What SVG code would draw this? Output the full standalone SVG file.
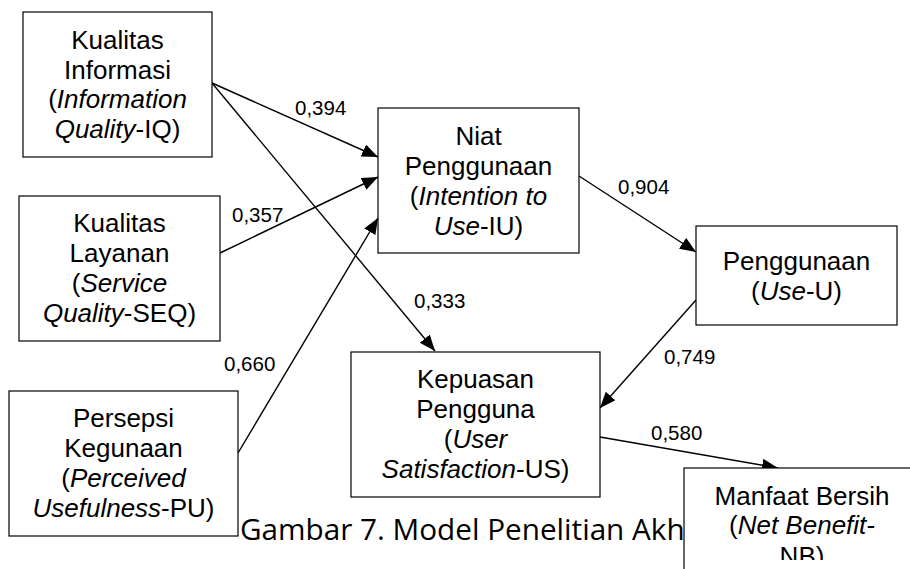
<svg xmlns="http://www.w3.org/2000/svg" width="910" height="569" viewBox="0 0 910 569">
<defs>
<marker id="arr" markerUnits="userSpaceOnUse" markerWidth="18" markerHeight="14" refX="16" refY="6.5" orient="auto">
<path d="M0,0 L16,6.5 L0,13 z" fill="#000"/>
</marker>
<clipPath id="nbclip"><rect x="684" y="468" width="236" height="92"/></clipPath>
<style>
.box{fill:#fff;stroke:#000;stroke-width:1.2}
.t{font-family:"Liberation Sans",Arial,sans-serif;font-size:26px;fill:#000;text-anchor:middle}
.n{font-family:"Liberation Sans",Arial,sans-serif;font-size:20.5px;fill:#000}
.c{stroke:#000;stroke-width:1.4;fill:none;marker-end:url(#arr)}
.cap{font-family:"Open Sans","Noto Sans",sans-serif;font-size:29.7px;fill:#000}
</style>
</defs>
<rect width="910" height="569" fill="#fff"/>
<text class="cap" x="240" y="540">Gambar 7. Model Penelitian Akh</text>
<g id="connectors">
<line class="c" x1="212" y1="83" x2="378" y2="157"/>
<line class="c" x1="212" y1="83" x2="435" y2="351"/>
<line class="c" x1="220" y1="253" x2="378" y2="177"/>
<line class="c" x1="238" y1="453" x2="378" y2="218"/>
<line class="c" x1="579" y1="176" x2="696" y2="252"/>
<line class="c" x1="696" y1="300" x2="600" y2="408"/>
<line class="c" x1="600" y1="437" x2="778" y2="468"/>
<text class="n" x="295" y="115">0,394</text>
<text class="n" x="232" y="222">0,357</text>
<text class="n" x="618" y="194">0,904</text>
<text class="n" x="414" y="308">0,333</text>
<text class="n" x="224" y="371">0,660</text>
<text class="n" x="664" y="364">0,749</text>
<text class="n" x="651" y="440">0,580</text>
</g>
<g id="IQ">
<rect class="box" x="23" y="12" width="189" height="145"/>
<text class="t" x="117.5" y="49">Kualitas</text>
<text class="t" x="117.5" y="79">Informasi</text>
<text class="t" x="117.5" y="108">(<tspan font-style="italic">Information</tspan></text>
<text class="t" x="117.5" y="138"><tspan font-style="italic">Quality</tspan>-IQ)</text>
</g>
<g id="SEQ">
<rect class="box" x="19" y="196" width="201" height="145"/>
<text class="t" x="119.5" y="232">Kualitas</text>
<text class="t" x="119.5" y="262">Layanan</text>
<text class="t" x="119.5" y="292">(<tspan font-style="italic">Service</tspan></text>
<text class="t" x="119.5" y="322"><tspan font-style="italic">Quality</tspan>-SEQ)</text>
</g>
<g id="PU">
<rect class="box" x="9" y="391" width="229" height="145"/>
<text class="t" x="123.5" y="427">Persepsi</text>
<text class="t" x="123.5" y="457">Kegunaan</text>
<text class="t" x="123.5" y="487">(<tspan font-style="italic">Perceived</tspan></text>
<text class="t" x="123.5" y="517"><tspan font-style="italic">Usefulness</tspan>-PU)</text>
</g>
<g id="IU">
<rect class="box" x="378" y="108" width="201" height="145"/>
<text class="t" x="478.5" y="145">Niat</text>
<text class="t" x="478.5" y="175">Penggunaan</text>
<text class="t" x="478.5" y="205">(<tspan font-style="italic">Intention to</tspan></text>
<text class="t" x="478.5" y="235"><tspan font-style="italic">Use</tspan>-IU)</text>
</g>
<g id="U">
<rect class="box" x="696" y="226" width="201" height="99"/>
<text class="t" x="796.5" y="270">Penggunaan</text>
<text class="t" x="796.5" y="300">(<tspan font-style="italic">Use</tspan>-U)</text>
</g>
<g id="US">
<rect class="box" x="351" y="352" width="249" height="145"/>
<text class="t" x="475.5" y="388">Kepuasan</text>
<text class="t" x="475.5" y="418">Pengguna</text>
<text class="t" x="475.5" y="448">(<tspan font-style="italic">User</tspan></text>
<text class="t" x="475.5" y="478"><tspan font-style="italic">Satisfaction</tspan>-US)</text>
</g>
<g id="NB">
<rect class="box" x="684" y="468" width="236" height="120"/>
<text class="t" x="802" y="505">Manfaat Bersih</text>
<text class="t" x="802" y="534">(<tspan font-style="italic">Net Benefit-</tspan></text>
<text class="t" x="802" y="565" clip-path="url(#nbclip)">NB)</text>
</g>
</svg>
